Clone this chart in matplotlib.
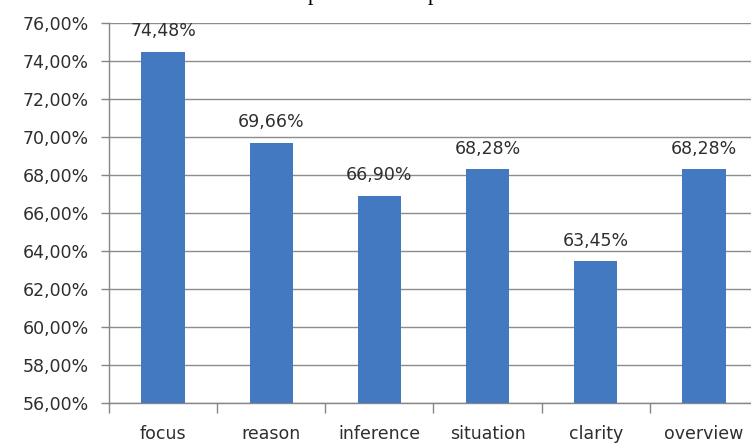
import matplotlib
matplotlib.use("Agg")
import matplotlib.pyplot as plt
from matplotlib.ticker import FuncFormatter, MultipleLocator, FixedLocator
import numpy as np

categories = ["focus", "reason", "inference", "situation", "clarity", "overview"]
values = [74.48, 69.66, 66.90, 68.28, 63.45, 68.28]
y_min, y_max, y_step = 56, 76, 2

bar_color = "#4279C0"
grid_color = "#8C8C8C"
axis_color = "#868686"
text_color = "#2E2E2E"

plt.rcParams["font.family"] = ["DejaVu Sans"]

W, H = 751, 446
fig = plt.figure(figsize=(W / 100, H / 100), dpi=100)
ax = fig.add_axes([109 / W, (H - 403) / H, (758 - 109) / W, (403 - 22.7) / H])

x = np.arange(len(categories))
ax.bar(x, values, width=0.4, color=bar_color, zorder=3)

ax.set_xlim(-0.5, len(categories) - 0.5)
ax.set_ylim(y_min, y_max)
ax.yaxis.set_major_locator(MultipleLocator(y_step))
ax.yaxis.set_major_formatter(FuncFormatter(lambda v, p: f"{v:.2f}%".replace(".", ",")))
ax.grid(axis="y", color=grid_color, linewidth=1.0, zorder=0)
ax.set_axisbelow(True)

# category labels centred under bars, tick marks at category boundaries
ax.set_xticks(x)
ax.set_xticklabels(categories)
ax.tick_params(axis="x", which="major", length=0, pad=16, labelsize=12.5, labelcolor=text_color)
ax.xaxis.set_minor_locator(FixedLocator(np.arange(-0.5, len(categories), 1.0)))
ax.tick_params(axis="x", which="minor", length=7, width=1, color=axis_color, direction="out")
ax.tick_params(axis="y", length=6, width=1, color=axis_color, direction="out",
               labelsize=12.5, labelcolor=text_color, pad=8.5)

for side in ("top", "right"):
    ax.spines[side].set_visible(False)
for side in ("left", "bottom"):
    ax.spines[side].set_color(axis_color)
    ax.spines[side].set_linewidth(1.0)

for xi, v in zip(x, values):
    ax.annotate(f"{v:.2f}%".replace(".", ","), (xi, v), xytext=(0, 8.5),
                textcoords="offset points", ha="center", va="bottom",
                fontsize=12.5, color=text_color)

# caption text above the chart, mostly outside the canvas
for px, ch in [(313, "p"), (433, "p")]:
    fig.text(px / W, 1.0, ch, ha="center", va="baseline",
             fontsize=16, family="Liberation Serif", color="black")

fig.savefig("out.png", dpi=100)
